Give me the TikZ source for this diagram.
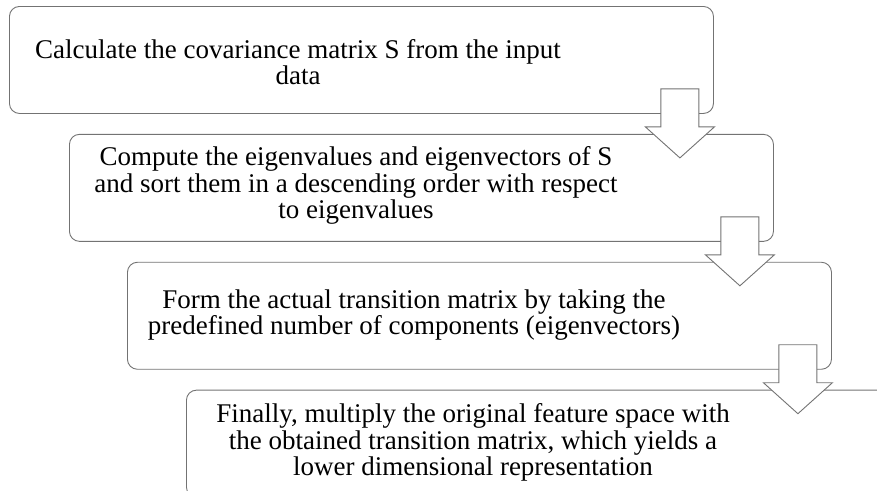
\documentclass[tikz,border=0pt]{standalone}
\usepackage{fontspec}
\setmainfont{Liberation Serif}
\usetikzlibrary{positioning}
\usetikzlibrary{calc}

\begin{document}
\begin{tikzpicture}[
            x=1pt, y=1pt,
            stepbox/.style={draw=black!55, line width=0.9pt, rounded corners=10pt,
                minimum width=704pt, minimum height=107pt, inner sep=0pt},
            steptext/.style={align=center, inner sep=0pt,
                font=\fontsize{27}{26.5}\selectfont},
            downarrow/.style={draw=black!55, line width=0.9pt, fill=white}
        ]

        \clip (0,0) rectangle (877,-490);

        % steps
        \node[stepbox, anchor=north west] (b1) at (9,-6) {};
        \node[stepbox, below=20pt of b1.south west, anchor=north west, xshift=60pt] (b2) {};
        \node[stepbox, below=20pt of b2.south west, anchor=north west, xshift=58pt] (b3) {};
        \node[stepbox, below=20pt of b3.south west, anchor=north west, xshift=59pt] (b4) {};

        \node[steptext] (t1) at ($(b1.north west)+(289,-56)$)
            {Calculate the covariance matrix S from the input\\data};
        \node[steptext] (t2) at ($(b2.north west)+(287,-52)$)
            {Compute the eigenvalues and eigenvectors of S\\and sort them in a descending order with respect\\to eigenvalues};
        \node[steptext] (t3) at ($(b3.north west)+(287,-53)$)
            {Form the actual transition matrix by taking the\\predefined number of components (eigenvectors)};
        \node[steptext] (t4) at ($(b4.north west)+(287,-53)$)
            {Finally, multiply the original feature space with\\the obtained transition matrix, which yields a\\lower dimensional representation};

        % block arrows between the steps
        \foreach \b in {b1,b2,b3}
            \draw[downarrow] ($(\b.south east)+(-53,25)$) -- ++(38,0) -- ++(0,-38)
                -- ++(15.5,0) -- ++(-34.5,-31) -- ++(-34.5,31) -- ++(15.5,0) -- cycle;
        \end{tikzpicture}
\end{document}
